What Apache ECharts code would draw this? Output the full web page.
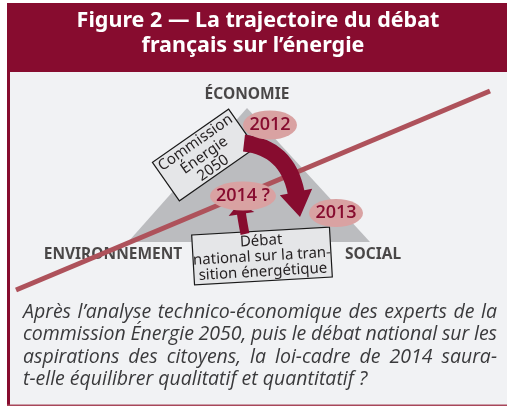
<!DOCTYPE html>
<html><head><meta charset="utf-8">
<script src="https://cdn.jsdelivr.net/npm/echarts@6/dist/echarts.min.js"></script>
<style>html,body{margin:0;padding:0;background:#fff}#c{width:507px;height:408px}</style>
</head><body><div id="c"></div>
<script>
// ---- content ----
const titleLines = ['Figure 2 — La trajectoire du débat', 'français sur l’énergie'];
const pillars = ['ÉCONOMIE', 'ENVIRONNEMENT', 'SOCIAL'];
const pillarPos = [[247, 95], [113, 255], [373, 255]];
const triangle = [[247, 108], [128, 242], [370, 242]];
const trajectory = [[16, 290], [490, 91]];
const years = ['2012', '2014 ?', '2013'];
const yearPos = [[270, 125], [243, 196], [336, 213]];
const yearSize = [[54, 29], [66, 29], [54, 28]];
const boxTexts = [['Commission', 'Énergie', '2050'], ['Débat', 'national sur la tran-', 'sition énergétique']];
const boxPos = [[204, 155], [262, 256]];
const boxSize = [[93, 47], [138, 50]];
const boxAngle = [35, 3.3];
// arrows: start, control, head base, tip
const bigArrow = [[244, 143], [287, 148], [296, 192], [300, 217]];
const smallArrow = [[245, 234], [243, 224], [241.5, 214], [239, 203]];
const caption = [
  'Après l’analyse technico-économique des experts de la',
  'commission Énergie 2050, puis le débat national sur les',
  'aspirations des citoyens, la loi-cadre de 2014 saura-',
  't-elle équilibrer qualitatif et quantitatif ?'
];

// ---- styles ----
const RED = '#870c2f';
const LINE = '#ae525b';
const BG = '#f1f2f4';
const TRI = '#bbbcbf';
const ELL = '#d9a2a2';

function arrowPoly(api, a, bw, hw) {
  const P = a.map(p => api.coord(p));
  const [p0, c, p1, tip] = P;
  const N = 16, left = [], right = [];
  for (let i = 0; i <= N; i++) {
    const t = i / N, u = 1 - t;
    const x = u*u*p0[0] + 2*u*t*c[0] + t*t*p1[0];
    const y = u*u*p0[1] + 2*u*t*c[1] + t*t*p1[1];
    let dx = 2*u*(c[0]-p0[0]) + 2*t*(p1[0]-c[0]);
    let dy = 2*u*(c[1]-p0[1]) + 2*t*(p1[1]-c[1]);
    const l = Math.hypot(dx, dy); dx /= l; dy /= l;
    const nx = -dy, ny = dx;
    left.push([x + nx*bw/2, y + ny*bw/2]);
    right.push([x - nx*bw/2, y - ny*bw/2]);
  }
  let dx = p1[0]-c[0], dy = p1[1]-c[1];
  const l = Math.hypot(dx, dy); dx /= l; dy /= l;
  const nx = -dy, ny = dx;
  const pts = left.slice();
  pts.push([p1[0] + nx*hw/2, p1[1] + ny*hw/2]);
  pts.push(tip);
  pts.push([p1[0] - nx*hw/2, p1[1] - ny*hw/2]);
  return pts.concat(right.reverse());
}

// caption justification
const capFont = "italic 19.5px 'Open Sans'";
const ctx = document.createElement('canvas').getContext('2d');
ctx.font = capFont;
const capLeft = 23, capRight = 497;
const capGraphics = [];
function capText(x, y, t, sx) {
  return {type: 'text', x: x, y: y, scaleX: sx, style: {text: t, font: capFont, fill: '#3a3a3c', textAlign: 'left', textVerticalAlign: 'middle', align: 'left', verticalAlign: 'middle'}};
}
caption.forEach((line, i) => {
  const y = 312.5 + 22.3 * i;
  const words = line.split(' ');
  const ws = words.map(w => ctx.measureText(w).width);
  const total = ws.reduce((s, v) => s + v, 0);
  const avail = capRight - capLeft;
  const minGap = 4.5;
  let sx = 1, gap;
  if (i < caption.length - 1) {
    gap = (avail - total) / (words.length - 1);
    if (gap < minGap) { gap = minGap; sx = (avail - minGap * (words.length - 1)) / total; }
  } else {
    gap = ctx.measureText(' ').width;
  }
  let x = capLeft;
  words.forEach((w, k) => {
    capGraphics.push(capText(x, y, w, sx));
    x += ws[k] * sx + gap;
  });
});

const chart = echarts.init(document.getElementById('c'), null, {renderer: 'canvas'});
const option = {
  animation: false,
  grid: {left: 0, right: 0, top: 0, bottom: 0},
  xAxis: {type: 'value', min: 0, max: 507, show: false},
  yAxis: {type: 'value', min: 0, max: 408, inverse: true, show: false},
  graphic: [
    {type: 'rect', z: -10, shape: {x: 7, y: 72, width: 500, height: 334}, style: {fill: BG}},
    {type: 'rect', z: -10, shape: {x: 7, y: 3, width: 500, height: 69}, style: {fill: RED}},
    {type: 'rect', z: -10, shape: {x: 7, y: 72, width: 3, height: 334}, style: {fill: RED}},
    {type: 'rect', z: -10, shape: {x: 7, y: 404.5, width: 500, height: 1.5}, style: {fill: '#a8475a'}},
    {type: 'text', z: 10, x: 258, y: 21, style: {text: titleLines[0], font: "bold 21.5px 'Noto Sans'", fill: '#fff', textAlign: 'center', textVerticalAlign: 'middle', align: 'center', verticalAlign: 'middle'}},
    {type: 'text', z: 10, x: 253, y: 45.5, style: {text: titleLines[1], font: "bold 21.5px 'Noto Sans'", fill: '#fff', textAlign: 'center', textVerticalAlign: 'middle', align: 'center', verticalAlign: 'middle'}}
  ].concat(capGraphics),
  series: [
    {
      type: 'custom', z: 1, silent: true,
      data: [[0, 0]],
      renderItem: function (params, api) {
        return {type: 'polygon', shape: {points: triangle.map(p => api.coord(p))}, style: {fill: TRI}};
      }
    },
    {
      type: 'scatter', z: 2, silent: true, symbolSize: 0,
      data: pillars.map((n, i) => ({name: n, value: pillarPos[i]})),
      label: {show: true, position: 'inside', formatter: '{b}', fontFamily: 'Noto Sans', fontWeight: 'bold', fontSize: 15.5, color: '#1f1b1c'}
    },
    {
      type: 'line', z: 3, silent: true, symbol: 'none',
      data: trajectory,
      lineStyle: {color: LINE, width: 5, cap: 'butt'}
    },
    {
      type: 'custom', z: 4, silent: true,
      data: boxPos.map((p, i) => [p[0], p[1], i]),
      renderItem: function (params, api) {
        const i = api.value(2);
        const c = api.coord([api.value(0), api.value(1)]);
        const w = boxSize[i][0], h = boxSize[i][1];
        return {
          type: 'group', x: c[0], y: c[1], rotation: boxAngle[i] * Math.PI / 180,
          children: [
            {type: 'rect', shape: {x: -w/2, y: -h/2, width: w, height: h}, style: {fill: '#e5e6e8', stroke: '#1a1a1a', lineWidth: 1.2}},
            {type: 'text', x: 0, y: 0.5, style: {text: boxTexts[i].join('\n'), font: "15px 'Noto Sans'", lineHeight: 15.5, fill: '#231f20', textAlign: 'center', textVerticalAlign: 'middle', align: 'center', verticalAlign: 'middle'}}
          ]
        };
      }
    },
    {
      type: 'custom', z: 5, silent: true,
      data: [[0, 0]],
      renderItem: function (params, api) {
        return {type: 'group', children: [
          {type: 'polygon', shape: {points: arrowPoly(api, bigArrow, 17, 33)}, style: {fill: RED}},
          {type: 'polygon', shape: {points: arrowPoly(api, smallArrow, 9, 26)}, style: {fill: RED}}
        ]};
      }
    },
    {
      type: 'scatter', z: 6, silent: true, symbol: 'circle',
      data: years.map((n, i) => ({name: n, value: yearPos[i], symbolSize: yearSize[i]})),
      itemStyle: {color: ELL, opacity: 1},
      label: {show: true, position: 'inside', formatter: '{b}', fontFamily: 'Open Sans', fontWeight: 600, fontSize: 18, color: RED}
    }
  ]
};
chart.setOption(option);
</script>
</body></html>
